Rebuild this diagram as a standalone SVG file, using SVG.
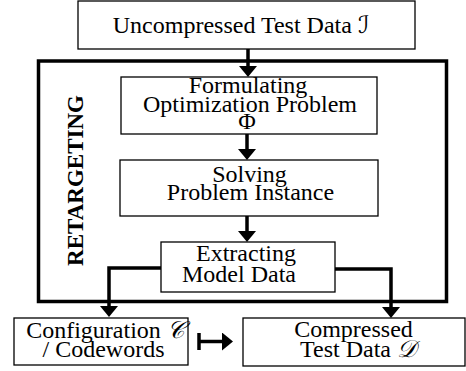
<svg xmlns="http://www.w3.org/2000/svg" width="466" height="371" viewBox="0 0 466 371">
<style>
.box{fill:#fff;stroke:#000;stroke-width:1.3}
.frame{fill:none;stroke:#000;stroke-width:3.5}
text{font-family:'Liberation Serif','Times New Roman','DejaVu Serif',serif;font-size:24px;fill:#000;text-anchor:middle}
.cal{font-family:'DejaVu Serif','DejaVu Sans',serif;font-style:italic}
.title{font-size:23px;font-weight:bold}
.conn{fill:none;stroke:#000;stroke-width:3.5}
</style>
<defs>
<marker id="ah" viewBox="0 0 11 18" refX="0" refY="9" markerWidth="11" markerHeight="18" markerUnits="userSpaceOnUse" orient="auto">
<path d="M0,0 L11,9 L0,18 Z" fill="#000"/>
</marker>
</defs>
<g id="retargeting">
<rect class="frame" x="38.5" y="61" width="408" height="240.5"/>
<text class="title" font-family="Liberation Serif, serif" transform="translate(83,180.5) rotate(-90)">RETARGETING</text>
</g>
<g id="uncompressed">
<rect class="box" x="78" y="1" width="337" height="48"/>
<text x="241" y="33" font-family="Liberation Serif, serif">Uncompressed Test Data <tspan class="cal">ℐ</tspan></text>
</g>
<g id="formulating">
<rect class="box" x="121" y="77" width="256" height="57"/>
<text x="248" y="93" font-family="Liberation Serif, serif">Formulating</text>
<text x="250" y="112" font-family="Liberation Serif, serif">Optimization Problem</text>
<text x="247" y="129" font-family="Liberation Serif, serif">Φ</text>
</g>
<g id="solving">
<rect class="box" x="120" y="160" width="258" height="56"/>
<text x="249.5" y="182" font-family="Liberation Serif, serif">Solving</text>
<text x="250.5" y="200" font-family="Liberation Serif, serif">Problem Instance</text>
</g>
<g id="extracting">
<rect class="box" x="161" y="242" width="174" height="50"/>
<text x="246" y="261" font-family="Liberation Serif, serif">Extracting</text>
<text x="239" y="282" font-family="Liberation Serif, serif">Model Data</text>
</g>
<g id="configuration">
<rect class="box" x="14" y="318" width="174" height="47"/>
<text x="105" y="338" font-family="Liberation Serif, serif">Configuration <tspan class="cal">𝒞</tspan></text>
<text x="103.5" y="357" font-family="Liberation Serif, serif">/ Codewords</text>
</g>
<g id="compressed">
<rect class="box" x="243" y="318" width="222" height="48"/>
<text x="353.5" y="337" font-family="Liberation Serif, serif">Compressed</text>
<text x="358" y="357" font-family="Liberation Serif, serif">Test Data <tspan class="cal">𝒟</tspan></text>
</g>
<g id="connectors">
<path class="conn" d="M248,49 V66" marker-end="url(#ah)"/>
<path class="conn" d="M247,134 V149" marker-end="url(#ah)"/>
<path class="conn" d="M247,216 V231" marker-end="url(#ah)"/>
<path class="conn" d="M161,268 H109 V306" marker-end="url(#ah)"/>
<path class="conn" d="M335,269 H391 V307" marker-end="url(#ah)"/>
<path class="conn" d="M199,333 V350"/>
<path class="conn" d="M199,341.5 H222" marker-end="url(#ah)"/>
</g>
</svg>
